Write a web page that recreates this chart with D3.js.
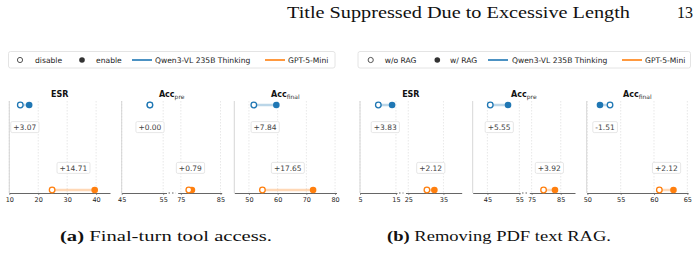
<!DOCTYPE html>
<html>
<head>
<meta charset="utf-8">
<script src="https://cdn.jsdelivr.net/npm/d3@7"></script>
<style>
body { margin: 0; background: #fff; }
</style>
</head>
<body>
<svg id="viz" width="700" height="270"></svg>
<script>
const models = ['Qwen3-VL 235B Thinking', 'GPT-5-Mini'];
const colors = ['#1f77b4', '#ff7f0e'];
const metrics = ['ESR', 'Acc|pre', 'Acc|final'];

// (a) final-turn tool access: disable value and enable - disable delta, per metric [qwen, gpt]
const offA = [[13.80, 24.80], [51.80, 77.00], [51.70, 54.70]];
const deltaA = [[3.07, 14.71], [0.00, 0.79], [7.84, 17.65]];
// (b) removing PDF text RAG: w/o RAG value and w/ - w/o delta
const offB = [[10.10, 30.30], [45.90, 79.10], [53.40, 60.80]];
const deltaB = [[3.83, 2.12], [5.55, 3.92], [-1.51, 2.12]];

const ticksA = [[10, 20, 30, 40], [45, 55, 75, 85], [50, 60, 70, 80]];
const ticksB = [[5, 15, 25, 35], [45, 55, 75, 85], [50, 55, 60, 65]];

// axis domains, one entry per segment (two segments = broken axis)
const domainsA = [[[10, 44.8]], [[45, 55.8], [74.2, 85.3]], [[44.9, 80.5]]];
const domainsB = [[[5, 15.3], [24.2, 40.2]], [[40.4, 55.2], [74.2, 89.9]], [[49.9, 65.1]]];

const legendA = ['disable', 'enable'];
const legendB = ['w/o RAG', 'w/ RAG'];

// pixel ranges for each segment
const rangesA = [[[9.3, 110]], [[121.7, 166.5], [177.7, 221.7]], [[234.3, 336.5]]];
const rangesB = [[[360, 397], [405.5, 461.7]], [[472.7, 520], [529.3, 575]], [[586.7, 688]]];

const plotTop = 101, plotBottom = 193;
const yScale = d3.scaleLinear().domain([0, 1]).range([190, 105]);
const font = 'DejaVu Sans, sans-serif';
const serif = 'Liberation Serif, serif';
const svg = d3.select('#viz');

// page header
svg.append('text')
    .attr('x', 287).attr('y', 18)
    .attr('font-family', serif)
    .attr('font-size', 16)
    .attr('textLength', 343)
    .attr('lengthAdjust', 'spacingAndGlyphs')
    .attr('fill', '#111')
    .text('Title Suppressed Due to Excessive Length');
svg.append('text')
    .attr('x', 693).attr('y', 18)
    .attr('text-anchor', 'end')
    .attr('font-family', serif)
    .attr('font-size', 16)
    .attr('fill', '#111')
    .text('13');

const drawLegend = (x0, x1, labels, offsets) => {
    const g = svg.append('g');
    g.append('rect')
        .attr('x', x0).attr('y', 51.5)
        .attr('width', x1 - x0).attr('height', 16.5)
        .attr('rx', 2)
        .attr('fill', '#fff')
        .attr('stroke', '#ddd')
        .attr('stroke-width', 0.8);
    const ly = 60;
    g.append('circle').attr('cx', offsets[0]).attr('cy', ly).attr('r', 2.6)
        .attr('fill', '#fff').attr('stroke', '#555').attr('stroke-width', 1);
    g.append('text').attr('x', offsets[1]).attr('y', ly + 2.7).text(labels[0]);
    g.append('circle').attr('cx', offsets[2]).attr('cy', ly).attr('r', 2.8)
        .attr('fill', '#333');
    g.append('text').attr('x', offsets[3]).attr('y', ly + 2.7).text(labels[1]);
    models.forEach((m, i) => {
        const lx = offsets[4 + i * 2];
        g.append('line').attr('x1', lx).attr('x2', lx + 20).attr('y1', ly).attr('y2', ly)
            .attr('stroke', colors[i]).attr('stroke-width', 1.6);
        g.append('text').attr('x', offsets[5 + i * 2]).attr('y', ly + 2.7).text(m);
    });
    g.selectAll('text')
        .attr('font-family', font)
        .attr('font-size', 7.6)
        .attr('fill', '#222');
};

const xFor = (v, scales, domains) => {
    let idx = domains.findIndex(d => v >= d[0] && v <= d[1]);
    if (idx < 0) idx = 0;
    return scales[idx](v);
};

const drawPanel = (title, off, delta, ticks, domains, ranges) => {
    const g = svg.append('g');
    const scales = domains.map((d, i) => d3.scaleLinear().domain(d).range(ranges[i]));
    const left = ranges[0][0];
    const right = ranges[ranges.length - 1][1];

    // title with optional subscript
    const [main, sub] = title.split('|');
    const t = g.append('text')
        .attr('x', (left + right) / 2).attr('y', 97)
        .attr('text-anchor', 'middle')
        .attr('font-family', font)
        .attr('fill', '#111');
    t.append('tspan').attr('font-weight', 'bold').attr('font-size', 8).text(main);
    if (sub) {
        t.append('tspan').attr('font-size', 6).attr('dy', 1.8).attr('fill', '#333').text(sub);
    }

    // grid and axes per segment
    scales.forEach((s, i) => {
        const tk = ticks.filter(v => v >= domains[i][0] && v <= domains[i][1]);
        g.selectAll(null).data(tk).join('line')
            .attr('x1', d => s(d)).attr('x2', d => s(d))
            .attr('y1', plotTop).attr('y2', plotBottom)
            .attr('stroke', '#dedede')
            .attr('stroke-width', 0.7)
            .attr('stroke-dasharray', '1.5,1.5');
        const axis = d3.axisBottom(s).tickValues(tk).tickSize(2).tickSizeOuter(0);
        const ag = g.append('g')
            .attr('transform', `translate(0,${plotBottom})`)
            .call(axis);
        ag.select('.domain').attr('stroke', '#666').attr('stroke-width', 1);
        ag.selectAll('.tick line').attr('stroke', '#666').attr('stroke-width', 0.7);
        ag.selectAll('.tick text')
            .attr('font-family', font)
            .attr('font-size', 6.5)
            .attr('fill', '#222')
            .attr('y', 4);
    });
    // break marker
    if (ranges.length > 1) {
        g.append('line')
            .attr('x1', ranges[0][1] + 2).attr('x2', ranges[1][0] - 2)
            .attr('y1', plotBottom).attr('y2', plotBottom)
            .attr('stroke', '#666')
            .attr('stroke-width', 1)
            .attr('stroke-dasharray', '1.5,2');
    }
    // left spine
    g.append('line')
        .attr('x1', left).attr('x2', left)
        .attr('y1', plotTop).attr('y2', plotBottom)
        .attr('stroke', '#ccc')
        .attr('stroke-width', 0.8);

    // dumbbells: first model on top row, second on bottom row
    models.forEach((m, i) => {
        const y = yScale(i === 0 ? 1 : 0);
        const v0 = off[i];
        const v1 = +(off[i] + delta[i]).toFixed(2);
        const x0 = xFor(v0, scales, domains);
        const x1 = xFor(v1, scales, domains);
        g.append('line')
            .attr('x1', x0).attr('x2', x1).attr('y1', y).attr('y2', y)
            .attr('stroke', colors[i])
            .attr('stroke-opacity', 0.3)
            .attr('stroke-width', 2.5);
        g.append('circle').attr('cx', x1).attr('cy', y).attr('r', 3.3)
            .attr('fill', colors[i]);
        g.append('circle').attr('cx', x0).attr('cy', y).attr('r', 2.8)
            .attr('fill', '#fff')
            .attr('stroke', colors[i])
            .attr('stroke-width', 1.3);

        // delta label
        const ly = yScale(i === 0 ? 0.74 : 0.26);
        const lg = g.append('g');
        const txt = lg.append('text')
            .attr('x', (x0 + x1) / 2).attr('y', ly + 2.7)
            .attr('text-anchor', 'middle')
            .attr('font-family', font)
            .attr('font-size', 7.5)
            .attr('fill', '#444')
            .text((delta[i] >= 0 ? '+' : '') + delta[i].toFixed(2));
        const bb = txt.node().getBBox();
        lg.insert('rect', 'text')
            .attr('x', bb.x - 2.5).attr('y', ly - 5.5)
            .attr('width', bb.width + 5).attr('height', 11)
            .attr('rx', 1.5)
            .attr('fill', '#fff')
            .attr('stroke', '#ddd')
            .attr('stroke-width', 0.7);
    });
};

drawLegend(8.5, 335, legendA, [20, 35, 82, 96, 132, 155, 265, 288]);
drawLegend(358, 690.5, legendB, [370.7, 384.7, 437.3, 450, 488, 512, 622, 645]);

metrics.forEach((m, i) => {
    drawPanel(m, offA[i], deltaA[i], ticksA[i], domainsA[i], rangesA[i]);
    drawPanel(m, offB[i], deltaB[i], ticksB[i], domainsB[i], rangesB[i]);
});

// sub-figure captions
const caption = (x, width, letter, rest) => {
    const t = svg.append('text')
        .attr('x', x).attr('y', 241)
        .attr('font-family', serif)
        .attr('font-size', 14.5)
        .attr('textLength', width)
        .attr('lengthAdjust', 'spacingAndGlyphs')
        .attr('fill', '#111');
    t.append('tspan').attr('font-weight', 'bold').text(`(${letter})`);
    t.append('tspan').text(' ' + rest);
};
caption(60, 212, 'a', 'Final-turn tool access.');
caption(387, 224, 'b', 'Removing PDF text RAG.');
</script>
</body>
</html>
